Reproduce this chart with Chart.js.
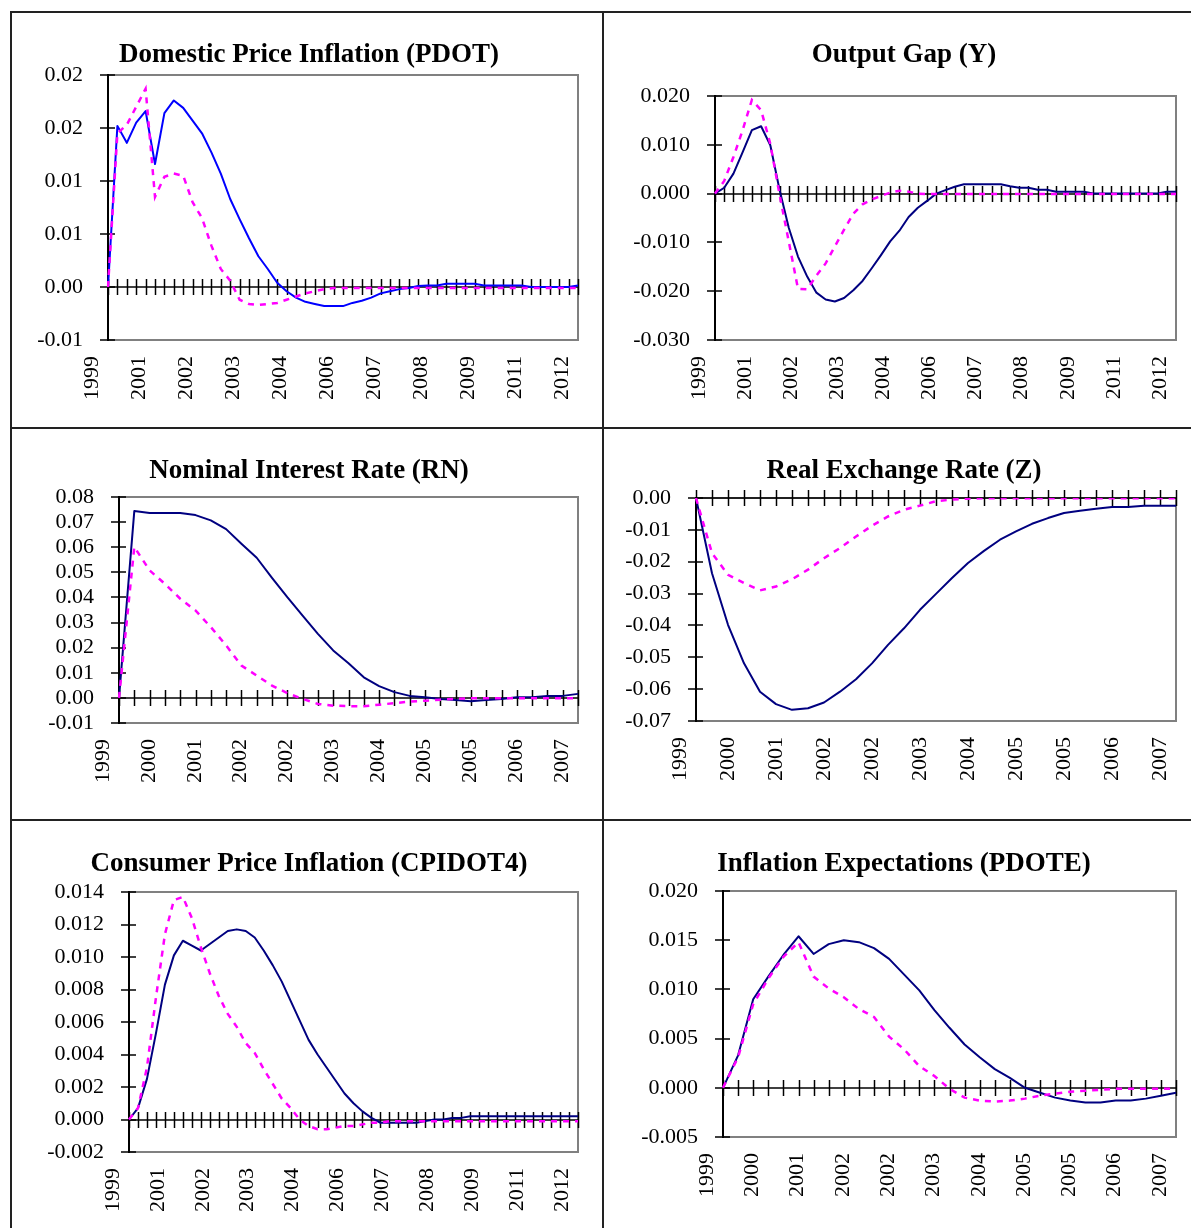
<!DOCTYPE html>
<html>
<head>
<meta charset="utf-8">
<title>Impulse responses</title>
<script src="https://cdn.jsdelivr.net/npm/chart.js@4.4.1/dist/chart.umd.min.js"></script>
<style>
  body { margin: 0; background: #fff; }
  #page { position: relative; width: 1191px; height: 1228px; overflow: hidden; background: #fff; }
  .cell { position: absolute; }
  .cell canvas { display: block; }
  .rule { position: absolute; background: #222; z-index: 2; }
</style>
</head>
<body>
<div id="page">
  <div class="cell" style="left:603px;top:0"><canvas id="gap" width="602" height="428"></canvas></div>
  <div class="cell" style="left:603px;top:428px"><canvas id="z" width="602" height="392"></canvas></div>
  <div class="cell" style="left:603px;top:820px"><canvas id="pdote" width="602" height="408"></canvas></div>
  <div class="cell" style="left:0;top:0"><canvas id="pdot" width="618" height="428"></canvas></div>
  <div class="cell" style="left:0;top:428px"><canvas id="rn" width="618" height="392"></canvas></div>
  <div class="cell" style="left:0;top:820px"><canvas id="cpi" width="618" height="408"></canvas></div>

  <div class="rule" style="left:10px;top:11px;width:1181px;height:2px"></div>
  <div class="rule" style="left:10px;top:11px;width:2px;height:1217px"></div>
  <div class="rule" style="left:602px;top:11px;width:2px;height:1217px"></div>
  <div class="rule" style="left:10px;top:427px;width:1181px;height:2px"></div>
  <div class="rule" style="left:10px;top:819px;width:1181px;height:2px"></div>
</div>
<script>
// quarterly periods, first one is 1999Q4
const quarters = [
  '1999Q4',
  '2000Q1', '2000Q2', '2000Q3', '2000Q4',
  '2001Q1', '2001Q2', '2001Q3', '2001Q4',
  '2002Q1', '2002Q2', '2002Q3', '2002Q4',
  '2003Q1', '2003Q2', '2003Q3', '2003Q4',
  '2004Q1', '2004Q2', '2004Q3', '2004Q4',
  '2005Q1', '2005Q2', '2005Q3', '2005Q4',
  '2006Q1', '2006Q2', '2006Q3', '2006Q4',
  '2007Q1', '2007Q2', '2007Q3', '2007Q4',
  '2008Q1', '2008Q2', '2008Q3', '2008Q4',
  '2009Q1', '2009Q2', '2009Q3', '2009Q4',
  '2010Q1', '2010Q2', '2010Q3', '2010Q4',
  '2011Q1', '2011Q2', '2011Q3', '2011Q4',
  '2012Q1', '2012Q2'
];
const quartersShort = quarters.slice(0, 31);

// year labels shown under the category axis
const yearsEvery5 = ['1999', '2001', '2002', '2003', '2004', '2006', '2007', '2008', '2009', '2011', '2012'];
const yearsEvery3 = ['1999', '2000', '2001', '2002', '2002', '2003', '2004', '2005', '2005', '2006', '2007'];

// Domestic Price Inflation (PDOT)
const pdotSolid = [0, 0.0152, 0.0136, 0.0155, 0.0166, 0.0116, 0.0164, 0.0176, 0.0169, 0.0157,
  0.0145, 0.0127, 0.0107, 0.0083, 0.0064, 0.0046, 0.0029, 0.0017, 0.0004, -0.0004,
  -0.0010, -0.0014, -0.0016, -0.0018, -0.0018, -0.0018, -0.0015, -0.0013, -0.0010, -0.0006,
  -0.0004, -0.0002, -0.0001, 0.0001, 0.00015, 0.00015, 0.0003, 0.0003, 0.0003, 0.0003,
  0.00015, 0.00015, 0.00015, 0.00015, 0.00015, 0, 0, 0, 0, 0, 0.00015];
const pdotDashed = [0, 0.0145, 0.0153, 0.0170, 0.0187, 0.0085, 0.0104, 0.0107, 0.0105, 0.0080,
  0.0065, 0.0039, 0.0017, 0.0006, -0.0012, -0.0016, -0.0017, -0.0016, -0.0015, -0.0012,
  -0.0009, -0.0006, -0.0004, -0.0002, -0.0001, -0.0001, -0.0001, -0.0001, -0.0001, -0.0001,
  -0.0001, -0.0001, -0.0001, -0.0001, -0.0001, -0.0001, -0.0001, -0.0001, -0.0001, -0.0001,
  -0.0001, -0.0001, -0.0001, -0.0001, -0.0001, -0.0001, -0.0001, -0.0001, -0.0001, -0.0001, -0.0001];
const pdotTickValues = [-0.005, 0, 0.005, 0.01, 0.015, 0.02];
const pdotTickLabels = ['-0.01', '0.00', '0.01', '0.01', '0.02', '0.02'];

// Output Gap (Y)
const gapSolid = [0, 0.0012, 0.0041, 0.0085, 0.0130, 0.0138, 0.0099, 0.0008, -0.0070, -0.0129,
  -0.0170, -0.0203, -0.0217, -0.0221, -0.0214, -0.0198, -0.0179, -0.0153, -0.0126, -0.0098,
  -0.0076, -0.0048, -0.0029, -0.0015, 0, 0.0007, 0.0014, 0.0019, 0.0019, 0.0019,
  0.0019, 0.0019, 0.0015, 0.0012, 0.0012, 0.0008, 0.0008, 0.0004, 0.0004, 0.0004,
  0.0004, 0, 0, 0, 0, 0, 0, 0, 0, 0.0004, 0.0004];
const gapDashed = [0, 0.0026, 0.0075, 0.0130, 0.0192, 0.0171, 0.0102, -0.0002, -0.0098, -0.0195,
  -0.0196, -0.0168, -0.0143, -0.0108, -0.0074, -0.0041, -0.0022, -0.0012, -0.0005, 0.0002,
  0.0006, 0.0004, 0, -0.0001, -0.0001, -0.0001, -0.0001, -0.0001, -0.0001, -0.0001,
  -0.0001, -0.0001, -0.0001, -0.0001, -0.0001, -0.0001, -0.0001, -0.0001, -0.0001, -0.0001,
  -0.0001, -0.0001, -0.0001, -0.0001, -0.0001, -0.0001, -0.0001, -0.0001, -0.0001, -0.0001, -0.0001];
const gapTickValues = [-0.03, -0.02, -0.01, 0, 0.01, 0.02];
const gapTickLabels = ['-0.030', '-0.020', '-0.010', '0.000', '0.010', '0.020'];

// Nominal Interest Rate (RN)
const rnSolid = [0, 0.0744, 0.0736, 0.0736, 0.0736, 0.0728, 0.0707, 0.0672, 0.0614, 0.0558,
  0.0478, 0.0401, 0.0328, 0.0255, 0.0189, 0.0138, 0.0082, 0.0047, 0.0023, 0.0008,
  0.0003, -0.0004, -0.0008, -0.0013, -0.0008, -0.0004, 0.0003, 0.0003, 0.0008, 0.0008, 0.0016];
const rnDashed = [0, 0.0601, 0.0508, 0.0454, 0.0395, 0.0348, 0.0282, 0.0209, 0.0129, 0.0089,
  0.0049, 0.0019, -0.0004, -0.0024, -0.0031, -0.0033, -0.0033, -0.0027, -0.0021, -0.0015,
  -0.0011, -0.0007, -0.0004, -0.0001, -0.0001, -0.0001, -0.0001, -0.0001, -0.0001, -0.0001, -0.0001];
const rnTickValues = [-0.01, 0, 0.01, 0.02, 0.03, 0.04, 0.05, 0.06, 0.07, 0.08];
const rnTickLabels = ['-0.01', '0.00', '0.01', '0.02', '0.03', '0.04', '0.05', '0.06', '0.07', '0.08'];

// Real Exchange Rate (Z)
const zSolid = [0, -0.0236, -0.0398, -0.0519, -0.0608, -0.0647, -0.0665, -0.0660, -0.0642, -0.0608,
  -0.0569, -0.0519, -0.0461, -0.0409, -0.0351, -0.0301, -0.0251, -0.0204, -0.0166, -0.0131,
  -0.0105, -0.0081, -0.0063, -0.0047, -0.0040, -0.0034, -0.0028, -0.0028, -0.0024, -0.0024, -0.0024];
const zDashed = [0, -0.0173, -0.0241, -0.0267, -0.0290, -0.0278, -0.0255, -0.0225, -0.0189, -0.0157,
  -0.0121, -0.0087, -0.0058, -0.0037, -0.0024, -0.0010, -0.0005, -0.0002, -0.0001, -0.0001,
  -0.0001, -0.0001, -0.0001, -0.0001, -0.0001, -0.0001, -0.0001, -0.0001, -0.0001, -0.0001, -0.0001];
const zTickValues = [-0.07, -0.06, -0.05, -0.04, -0.03, -0.02, -0.01, 0];
const zTickLabels = ['-0.07', '-0.06', '-0.05', '-0.04', '-0.03', '-0.02', '-0.01', '0.00'];

// Consumer Price Inflation (CPIDOT4)
const cpiSolid = [0, 0.0007, 0.0025, 0.0053, 0.0083, 0.0101, 0.0110, 0.0107, 0.0104, 0.0108,
  0.0112, 0.0116, 0.0117, 0.0116, 0.0112, 0.0104, 0.0095, 0.0085, 0.0073, 0.0061,
  0.0049, 0.0040, 0.0032, 0.0024, 0.0016, 0.0010, 0.0005, 0.0001, -0.0002, -0.0002,
  -0.0002, -0.0002, -0.0002, -0.0001, 0, 0, 0.0001, 0.0001, 0.0002, 0.0002,
  0.0002, 0.0002, 0.0002, 0.0002, 0.0002, 0.0002, 0.0002, 0.0002, 0.0002, 0.0002, 0.0002];
const cpiDashed = [0, 0.0007, 0.0032, 0.0075, 0.0114, 0.0135, 0.0137, 0.0124, 0.0106, 0.0090,
  0.0076, 0.0065, 0.0057, 0.0047, 0.0041, 0.0031, 0.0022, 0.0013, 0.0007, 0,
  -0.0004, -0.0006, -0.0006, -0.0005, -0.0004, -0.0004, -0.0003, -0.0002, -0.0002, -0.0001,
  -0.0001, -0.0001, -0.0001, -0.0001, -0.0001, -0.0001, -0.0001, -0.0001, -0.0001, -0.0001,
  -0.0001, -0.0001, -0.0001, -0.0001, -0.0001, -0.0001, -0.0001, -0.0001, -0.0001, -0.0001, -0.0001];
const cpiTickValues = [-0.002, 0, 0.002, 0.004, 0.006, 0.008, 0.010, 0.012, 0.014];
const cpiTickLabels = ['-0.002', '0.000', '0.002', '0.004', '0.006', '0.008', '0.010', '0.012', '0.014'];

// Inflation Expectations (PDOTE)
const pdoteSolid = [0, 0.0033, 0.0090, 0.0113, 0.0135, 0.0154, 0.0136, 0.0146, 0.0150, 0.0148,
  0.0142, 0.0131, 0.0115, 0.0099, 0.0079, 0.0061, 0.0044, 0.0031, 0.0019, 0.0010,
  0, -0.0005, -0.0010, -0.0013, -0.0015, -0.0015, -0.0013, -0.0013, -0.0011, -0.0008, -0.0005];
const pdoteDashed = [0, 0.0031, 0.0085, 0.0111, 0.0133, 0.0148, 0.0113, 0.0101, 0.0092, 0.0080,
  0.0072, 0.0052, 0.0039, 0.0022, 0.0012, -0.0001, -0.0010, -0.0013, -0.0014, -0.0013,
  -0.0011, -0.0008, -0.0006, -0.0004, -0.0003, -0.0002, -0.0001, -0.0001, -0.0001, -0.0001, -0.0001];
const pdoteTickValues = [-0.005, 0, 0.005, 0.01, 0.015, 0.02];
const pdoteTickLabels = ['-0.005', '0.000', '0.005', '0.010', '0.015', '0.020'];

const SERIF = "'Liberation Serif', 'Times New Roman', serif";
Chart.defaults.font.family = SERIF;
Chart.defaults.color = '#000';

// Excel-style axes: grey plot frame, black value axis, zero line with crossing ticks
const excelAxes = {
  id: 'excelAxes',
  beforeDatasetsDraw(chart) {
    const { ctx, chartArea: a, scales: { x, y } } = chart;
    const left = Math.round(a.left), right = Math.round(a.right);
    const top = Math.round(a.top), bottom = Math.round(a.bottom);
    const seg = (x1, y1, x2, y2) => {
      ctx.beginPath();
      ctx.moveTo(x1, y1);
      ctx.lineTo(x2, y2);
      ctx.stroke();
    };
    ctx.save();
    ctx.strokeStyle = '#808080';
    ctx.lineWidth = 2;
    ctx.strokeRect(left, top, right - left, bottom - top);

    ctx.strokeStyle = '#000';
    ctx.lineWidth = 2;
    seg(left, top - 1, left, bottom + 1);
    ctx.lineWidth = 1.5;
    y.ticks.forEach(t => {
      const py = Math.round(y.getPixelForValue(t.value));
      seg(left - 8, py, left + 7, py);
    });
    const y0 = Math.round(y.getPixelForValue(0));
    seg(left, y0, right, y0);
    chart.data.labels.forEach((lab, i) => {
      const px = Math.round(x.getPixelForValue(i)) + 0.5;
      seg(px, y0 - 8, px, y0 + 8);
    });
    ctx.restore();
  }
};

function makeChart(id, cfg) {
  const step = cfg.labels.length > 40 ? 5 : 3;
  const years = step === 5 ? yearsEvery5 : yearsEvery3;
  return new Chart(document.getElementById(id), {
    type: 'line',
    data: {
      labels: cfg.labels,
      datasets: [{
        label: 'dashed',
        data: cfg.dashed,
        borderColor: '#FF00FF',
        borderWidth: 2.5,
        borderDash: [6, 6],
        pointRadius: 0,
        tension: 0,
        fill: false
      }, {
        label: 'solid',
        data: cfg.solid,
        borderColor: cfg.solidColor,
        borderWidth: 2,
        borderJoinStyle: 'round',
        pointRadius: 0,
        tension: 0,
        fill: false
      }]
    },
    options: {
      responsive: false,
      animation: false,
      events: [],
      layout: { padding: { left: 0, right: 0, top: cfg.padTop, bottom: 0 } },
      plugins: {
        legend: { display: false },
        tooltip: { enabled: false },
        title: {
          display: true,
          text: cfg.title,
          color: '#000',
          font: { family: SERIF, size: 27, weight: 'bold', lineHeight: 1.2 },
          padding: { top: 0, bottom: cfg.titleGap }
        }
      },
      scales: {
        x: {
          type: 'category',
          offset: false,
          grid: { display: false, drawTicks: false },
          border: { display: false },
          ticks: {
            autoSkip: false,
            minRotation: 90,
            maxRotation: 90,
            padding: 16,
            labelOffset: -16,
            color: '#000',
            font: { family: SERIF, size: 22 },
            callback: (v, i) => (i % step === 0 ? years[i / step] : '')
          },
          afterFit: s => {
            s.height = cfg.xHeight;
            s.paddingLeft = 0;
            s.paddingRight = cfg.padRight;
          }
        },
        y: {
          min: cfg.tickValues[0],
          max: cfg.tickValues[cfg.tickValues.length - 1],
          grid: { display: false, drawTicks: false },
          border: { display: false },
          afterBuildTicks: s => { s.ticks = cfg.tickValues.map(v => ({ value: v })); },
          ticks: {
            autoSkip: false,
            padding: 25,
            color: '#000',
            font: { family: SERIF, size: 22 },
            callback: (v, i) => cfg.tickLabels[i]
          },
          afterFit: s => { s.width = cfg.yWidth; }
        }
      }
    },
    plugins: [excelAxes]
  });
}

makeChart('pdot', {
  title: 'Domestic Price Inflation (PDOT)', labels: quarters,
  solid: pdotSolid, dashed: pdotDashed, solidColor: '#0000FF',
  tickValues: pdotTickValues, tickLabels: pdotTickLabels,
  padRight: 40, padTop: 38.8, titleGap: 3.8, yWidth: 108, xHeight: 88
});
makeChart('gap', {
  title: 'Output Gap (Y)', labels: quarters,
  solid: gapSolid, dashed: gapDashed, solidColor: '#000080',
  tickValues: gapTickValues, tickLabels: gapTickLabels,
  padRight: 29, padTop: 38.8, titleGap: 24.8, yWidth: 112, xHeight: 88
});
makeChart('rn', {
  title: 'Nominal Interest Rate (RN)', labels: quartersShort,
  solid: rnSolid, dashed: rnDashed, solidColor: '#000080',
  tickValues: rnTickValues, tickLabels: rnTickLabels,
  padRight: 40, padTop: 26.8, titleGap: 9.8, yWidth: 119, xHeight: 97
});
makeChart('z', {
  title: 'Real Exchange Rate (Z)', labels: quartersShort,
  solid: zSolid, dashed: zDashed, solidColor: '#000080',
  tickValues: zTickValues, tickLabels: zTickLabels,
  padRight: 29, padTop: 27.3, titleGap: 10.3, yWidth: 93, xHeight: 99
});
makeChart('cpi', {
  title: 'Consumer Price Inflation (CPIDOT4)', labels: quarters,
  solid: cpiSolid, dashed: cpiDashed, solidColor: '#000080',
  tickValues: cpiTickValues, tickLabels: cpiTickLabels,
  padRight: 40, padTop: 27.8, titleGap: 11.8, yWidth: 129, xHeight: 76
});
makeChart('pdote', {
  title: 'Inflation Expectations (PDOTE)', labels: quartersShort,
  solid: pdoteSolid, dashed: pdoteDashed, solidColor: '#000080',
  tickValues: pdoteTickValues, tickLabels: pdoteTickLabels,
  padRight: 29, padTop: 27.8, titleGap: 10.8, yWidth: 120, xHeight: 91
});
</script>
</body>
</html>
